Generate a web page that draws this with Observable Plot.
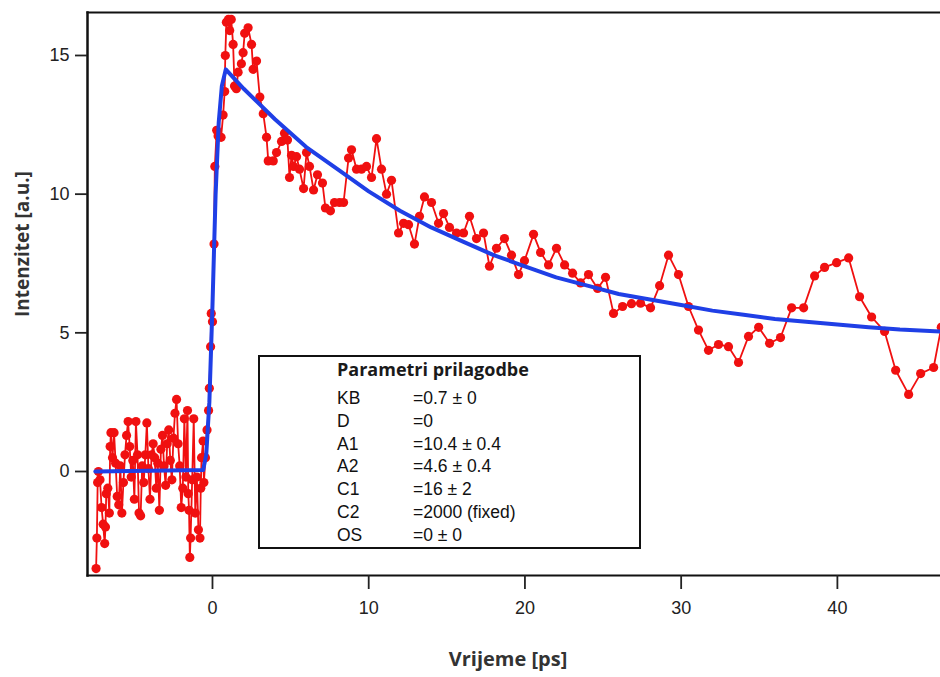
<!DOCTYPE html>
<html>
<head>
<meta charset="utf-8">
<script src="https://cdn.jsdelivr.net/npm/d3@7"></script>
<script src="https://cdn.jsdelivr.net/npm/@observablehq/plot@0.6"></script>
<style>
  html, body { margin: 0; padding: 0; background: #fff; }
  #wrap { position: relative; width: 940px; height: 677px; }
  #legend {
    position: absolute; left: 258px; top: 355px; width: 379px; height: 190px;
    border: 2px solid #111; background: #fff; box-sizing: content-box;
    font-family: "Liberation Sans", Arial, sans-serif; font-size: 17.5px; color: #111;
  }
  #legend .title { position: absolute; left: 77px; top: 0px; font-family: "Open Sans", sans-serif; font-weight: 700; font-size: 18px; color: #1a1a1a; }
  #legend .row { position: absolute; left: 77px; height: 22px; line-height: 22px; }
  #legend .row .v { position: absolute; left: 76px; white-space: nowrap; }
</style>
</head>
<body>
<div id="wrap"></div>
<script>
// measured data (time in ps, intensity in a.u.)
const time = [
  -7.45,-7.4,-7.35,-7.3,-7.2,-7.1,-7.0,-6.9,-6.85,-6.8,-6.7,-6.6,-6.55,-6.5,-6.4,-6.3,-6.2,-6.1,-6.0,-5.9,
  -5.8,-5.7,-5.6,-5.5,-5.4,-5.3,-5.2,-5.1,-5.0,-4.9,-4.8,-4.7,-4.6,-4.5,-4.4,-4.3,-4.2,-4.1,-4.0,-3.9,
  -3.8,-3.7,-3.6,-3.5,-3.4,-3.3,-3.2,-3.1,-3.0,-2.9,-2.8,-2.7,-2.6,-2.5,-2.4,-2.3,-2.2,-2.1,-2.0,-1.9,
  -1.8,-1.7,-1.6,-1.55,-1.5,-1.45,-1.4,-1.3,-1.2,-1.1,-1.0,-0.9,-0.8,-0.75,-0.7,-0.6,-0.55,
  -0.45,-0.35,-0.25,-0.2,-0.12,-0.08,0.0,0.1,0.15,0.27,0.36,0.55,0.68,0.78,0.82,0.89,1.02,1.1,1.2,1.32,
  1.41,1.53,1.64,1.85,1.96,2.06,2.28,2.5,2.6,2.82,3.03,3.25,3.46,3.57,3.89,4.1,4.42,4.61,4.8,4.93,
  5.06,5.19,5.38,5.57,5.83,6.02,6.21,6.47,6.72,7.04,7.23,7.55,7.81,8.13,8.39,8.71,8.9,9.22,9.54,9.86,
  10.18,10.5,10.82,11.14,11.46,11.91,12.23,12.55,12.93,13.25,13.57,14.02,14.47,14.79,15.17,15.62,16.07,16.45,16.9,17.35,
  17.73,18.18,18.69,19.14,19.59,19.97,20.55,21.0,21.51,22.02,22.54,23.05,23.56,24.07,24.65,25.16,25.67,26.25,26.82,27.4,
  28.04,28.62,29.19,29.83,30.47,31.11,31.75,32.39,33.03,33.67,34.31,34.96,35.66,36.36,37.07,37.84,38.54,39.18,39.95,40.72,
  41.42,42.19,43.02,43.73,44.56,45.33,46.16,46.65
];
const intensity = [
  -3.5,-2.4,-0.4,0.0,-0.3,-1.3,-1.9,-2.6,-2.0,-0.8,-0.6,-1.5,0.9,1.4,0.5,1.4,0.3,-0.9,-1.2,0.2,
  -1.5,-0.4,0.6,1.3,1.8,0.9,-0.2,0.4,-1.0,1.8,0.6,-1.5,-1.6,0.2,-0.4,0.6,1.75,0.1,-1.0,0.6,
  1.0,0.5,-0.6,0.3,-1.4,0.8,1.3,0.2,-0.5,1.0,1.5,0.4,-0.3,1.2,2.1,2.6,1.0,0.2,-1.3,-0.6,
  1.9,-0.2,2.2,-0.8,-1.4,-3.1,-2.4,-0.3,1.9,-1.5,-0.2,-2.1,-2.4,-0.6,0.5,1.1,-0.4,
  0.5,1.5,2.2,3.0,4.5,5.7,5.4,8.2,11.0,12.3,12.1,12.05,12.85,13.7,15.0,16.2,16.3,15.9,16.3,15.4,
  13.9,13.8,14.4,14.7,15.1,15.8,16.0,15.4,14.5,14.8,13.5,12.9,12.05,11.2,11.2,11.5,11.9,12.2,11.95,10.6,
  11.4,11.0,11.35,10.9,10.2,11.5,11.0,10.15,10.7,10.4,9.5,9.4,9.7,9.7,9.7,11.3,11.6,10.9,10.9,11.0,
  10.6,12.0,10.9,10.0,10.5,8.6,8.95,8.9,8.2,9.2,9.9,9.7,8.95,9.3,8.8,8.6,8.6,9.2,8.4,8.6,
  7.4,8.05,8.4,7.8,7.1,7.6,8.55,7.9,7.45,8.05,7.45,7.15,6.8,7.1,6.6,7.0,5.7,5.95,6.05,6.07,
  5.9,6.7,7.8,7.1,5.95,5.1,4.37,4.58,4.5,3.93,4.87,5.2,4.62,4.83,5.9,5.9,7.05,7.36,7.53,7.7,
  6.3,5.57,5.05,3.65,2.78,3.53,3.75,5.2
];
// fitted curve
const fitTime  = [-7.5,-0.6,-0.4,-0.2,0.0,0.2,0.4,0.6,0.85,2,4,6,8,10,12,14,16,18,20,22,24,26,28,30,32,34,36,38,40,42,44,46.6];
const fitValue = [0,0.05,0.6,2.5,6.0,10.0,12.6,13.9,14.5,13.8,12.7,11.7,10.9,10.1,9.4,8.8,8.3,7.8,7.4,7.0,6.7,6.4,6.2,6.0,5.8,5.65,5.5,5.4,5.3,5.2,5.12,5.05];
// x and y ticks
const xTicks = [0, 10, 20, 30, 40];
const yTicks = [0, 5, 10, 15];
// legend
const legendTitle = "Parametri prilagodbe";
const paramNames  = ["KB", "D", "A1", "A2", "C1", "C2", "OS"];
const paramValues = ["=0.7 ± 0", "=0", "=10.4 ± 0.4", "=4.6 ± 0.4", "=16 ± 2", "=2000 (fixed)", "=0 ± 0"];

const data = time.map((t, i) => ({t, v: intensity[i]}));
const fit = fitTime.map((t, i) => ({t, v: fitValue[i]}));

const chart = Plot.plot({
  width: 940,
  height: 677,
  marginLeft: 87,
  marginRight: 0,
  marginTop: 12,
  marginBottom: 102,
  style: {fontFamily: "'Liberation Sans', Arial, sans-serif", fontSize: "18px", color: "#222", background: "#fff"},
  x: {domain: [-8, 46.6]},
  y: {domain: [-3.75, 16.55]},
  marks: [
    Plot.frame({anchor: "top", stroke: "#111", strokeWidth: 2}),
    Plot.frame({anchor: "left", stroke: "#111", strokeWidth: 2.5}),
    Plot.frame({anchor: "bottom", stroke: "#111", strokeWidth: 2}),
    Plot.axisX({ticks: xTicks, tickSize: 14, tickPadding: 12, tickFormat: d => String(d), label: null, strokeWidth: 1.8, stroke: "#222", fill: "#222"}),
    Plot.axisY({ticks: yTicks, tickSize: 12, tickPadding: 6, tickFormat: d => String(d), label: null, strokeWidth: 1.8, stroke: "#222", fill: "#222"}),
    Plot.line(data, {x: "t", y: "v", stroke: "#f01010", strokeWidth: 1.8, clip: true}),
    Plot.dot(data, {x: "t", y: "v", r: 4.6, fill: "#f01010", stroke: "none", clip: true}),
    Plot.line(fit, {x: "t", y: "v", stroke: "#1f3fe6", strokeWidth: 4, clip: true}),
    Plot.text(["Vrijeme [ps]"], {frameAnchor: "bottom", dy: 90, dx: -6, fontFamily: "'Open Sans', sans-serif", fontWeight: 700, fontSize: 20, fill: "#333"}),
    Plot.text(["Intenzitet [a.u.]"], {frameAnchor: "left", dx: -65, dy: 23, rotate: -90, fontFamily: "'Open Sans', sans-serif", fontWeight: 700, fontSize: 19, fill: "#333"})
  ]
});
const wrap = document.getElementById("wrap");
wrap.appendChild(chart);

const legend = document.createElement("div");
legend.id = "legend";
const title = document.createElement("div");
title.className = "title";
title.textContent = legendTitle;
legend.appendChild(title);
paramNames.forEach((n, i) => {
  const row = document.createElement("div");
  row.className = "row";
  row.style.top = (30 + i * 22.8) + "px";
  row.textContent = n;
  const v = document.createElement("span");
  v.className = "v";
  v.textContent = paramValues[i];
  row.appendChild(v);
  legend.appendChild(row);
});
wrap.appendChild(legend);
</script>
</body>
</html>
